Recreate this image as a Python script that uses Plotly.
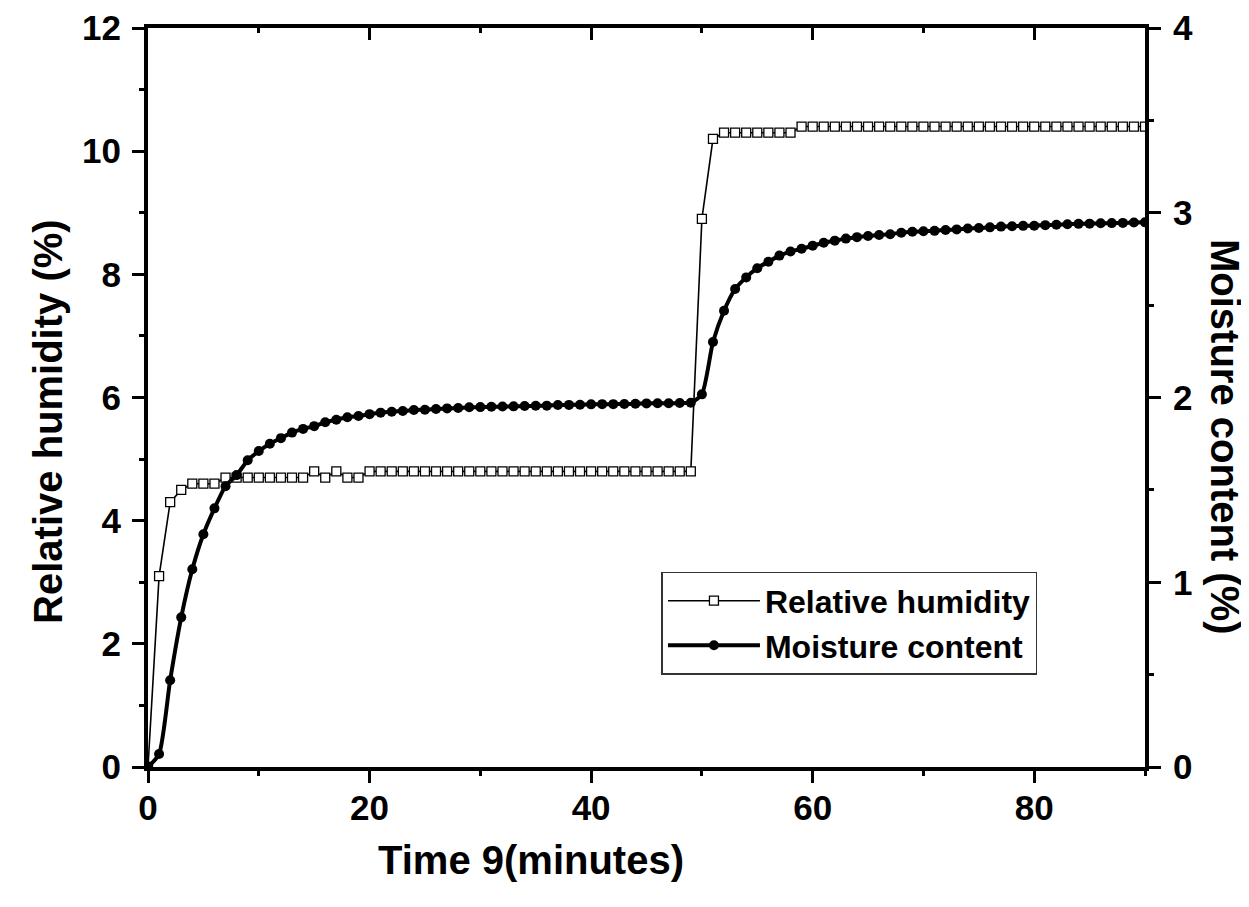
import plotly.graph_objects as go

time_min = list(range(0, 91))

relative_humidity = [
    0.0, 3.1, 4.3, 4.5, 4.6, 4.6, 4.6, 4.7, 4.7, 4.7,
    4.7, 4.7, 4.7, 4.7, 4.7, 4.8, 4.7, 4.8, 4.7, 4.7,
    4.8, 4.8, 4.8, 4.8, 4.8, 4.8, 4.8, 4.8, 4.8, 4.8,
    4.8, 4.8, 4.8, 4.8, 4.8, 4.8, 4.8, 4.8, 4.8, 4.8,
    4.8, 4.8, 4.8, 4.8, 4.8, 4.8, 4.8, 4.8, 4.8, 4.8,
    8.9, 10.2, 10.3, 10.3, 10.3, 10.3, 10.3, 10.3, 10.3, 10.4,
    10.4, 10.4, 10.4, 10.4, 10.4, 10.4, 10.4, 10.4, 10.4, 10.4,
    10.4, 10.4, 10.4, 10.4, 10.4, 10.4, 10.4, 10.4, 10.4, 10.4,
    10.4, 10.4, 10.4, 10.4, 10.4, 10.4, 10.4, 10.4, 10.4, 10.4,
    10.4,
]

moisture_content = [
    0.0, 0.07, 0.47, 0.81, 1.07, 1.26, 1.40, 1.52, 1.58, 1.66,
    1.71, 1.75, 1.78, 1.81, 1.83, 1.845, 1.866, 1.88, 1.893, 1.90,
    1.91, 1.918, 1.923, 1.927, 1.932, 1.934, 1.938, 1.941, 1.943, 1.947,
    1.948, 1.950, 1.951, 1.952, 1.954, 1.955, 1.956, 1.959, 1.960, 1.961,
    1.963, 1.964, 1.964, 1.965, 1.966, 1.968, 1.969, 1.969, 1.970, 1.972,
    2.017, 2.30, 2.47, 2.587, 2.65, 2.70, 2.735, 2.768, 2.79, 2.805,
    2.822, 2.838, 2.849, 2.86, 2.868, 2.874, 2.88, 2.884, 2.892, 2.897,
    2.90, 2.902, 2.907, 2.91, 2.915, 2.917, 2.921, 2.925, 2.927, 2.929,
    2.93, 2.933, 2.935, 2.938, 2.94, 2.941, 2.943, 2.944, 2.945, 2.947,
    2.948,
]

x_ticks = [0, 20, 40, 60, 80]
y_left_ticks = [0, 2, 4, 6, 8, 10, 12]
y_right_ticks = [0, 1, 2, 3, 4]

FONT = "Liberation Sans, Arial, sans-serif"
TICKFONT = dict(family=FONT, size=35, color="black", weight="bold")
TITLEFONT = dict(family=FONT, size=40, color="black", weight="bold")

fig = go.Figure()

fig.add_trace(go.Scatter(
    x=time_min, y=relative_humidity, name="Relative humidity",
    mode="lines+markers",
    line=dict(color="black", width=1.6),
    marker=dict(symbol="square", size=9, color="white",
                line=dict(color="black", width=1.3)),
    xaxis="x", yaxis="y",
))

fig.add_trace(go.Scatter(
    x=time_min, y=moisture_content, name="Moisture content",
    mode="lines+markers",
    line=dict(color="black", width=4, shape="spline", smoothing=0.6),
    marker=dict(symbol="circle", size=10, color="black"),
    xaxis="x", yaxis="y2",
))

# invisible trace so the top axis is drawn
fig.add_trace(go.Scatter(x=[None], y=[None], xaxis="x2", yaxis="y",
                         showlegend=False, hoverinfo="skip"))

common_axis = dict(showline=True, linecolor="black", linewidth=4,
                   showgrid=False, zeroline=False, tickcolor="black",
                   tickwidth=3, ticklen=12, tickfont=TICKFONT,
                   automargin=False)

fig.update_layout(
    width=1249, height=907,
    margin=dict(l=140, r=112, t=20, b=148),
    paper_bgcolor="white", plot_bgcolor="white",
    showlegend=True,
    xaxis=dict(range=[0, 90], tickvals=x_ticks, ticks="outside",
               ticklabelstandoff=-5,
               minor=dict(dtick=10, tick0=0, ticklen=5, tickwidth=3,
                          tickcolor="black", ticks="outside"),
               **common_axis),
    xaxis2=dict(range=[0, 90], overlaying="x", side="top", tickvals=x_ticks,
                ticks="inside", showticklabels=False,
                minor=dict(dtick=10, tick0=0, ticklen=5, tickwidth=3,
                           tickcolor="black", ticks="inside"),
                **common_axis),
    yaxis=dict(range=[0, 12], tickvals=y_left_ticks, ticks="outside",
               ticklabelstandoff=4,
               minor=dict(dtick=1, tick0=0, ticklen=5, tickwidth=3,
                          tickcolor="black", ticks="outside"),
               **common_axis),
    yaxis2=dict(range=[0, 4], overlaying="y", side="right",
                tickvals=y_right_ticks, ticks="outside",
                ticklabelstandoff=5,
                minor=dict(dtick=0.5, tick0=0, ticklen=5, tickwidth=3,
                           tickcolor="black", ticks="outside"),
                **common_axis),
    legend=dict(x=0.515, y=0.264, xanchor="left", yanchor="top",
                bgcolor="white", bordercolor="#333333", borderwidth=1.5,
                font=dict(family=FONT, size=32, color="black", weight="bold"),
                itemwidth=92, tracegroupgap=0),
    annotations=[
        dict(text="Time 9(minutes)", xref="paper", yref="paper",
             x=0.384, y=-0.126, xanchor="center", yanchor="middle",
             showarrow=False, font=TITLEFONT),
        dict(text="Relative humidity (%)", xref="paper", yref="paper",
             x=-0.1003, y=0.467, xanchor="center", yanchor="middle",
             textangle=-90, showarrow=False, font=TITLEFONT),
        dict(text="Moisture content (%)", xref="paper", yref="paper",
             x=1.0802, y=0.4466, xanchor="center", yanchor="middle",
             textangle=90, showarrow=False, font=TITLEFONT),
    ],
)

fig.write_html("out.html")
